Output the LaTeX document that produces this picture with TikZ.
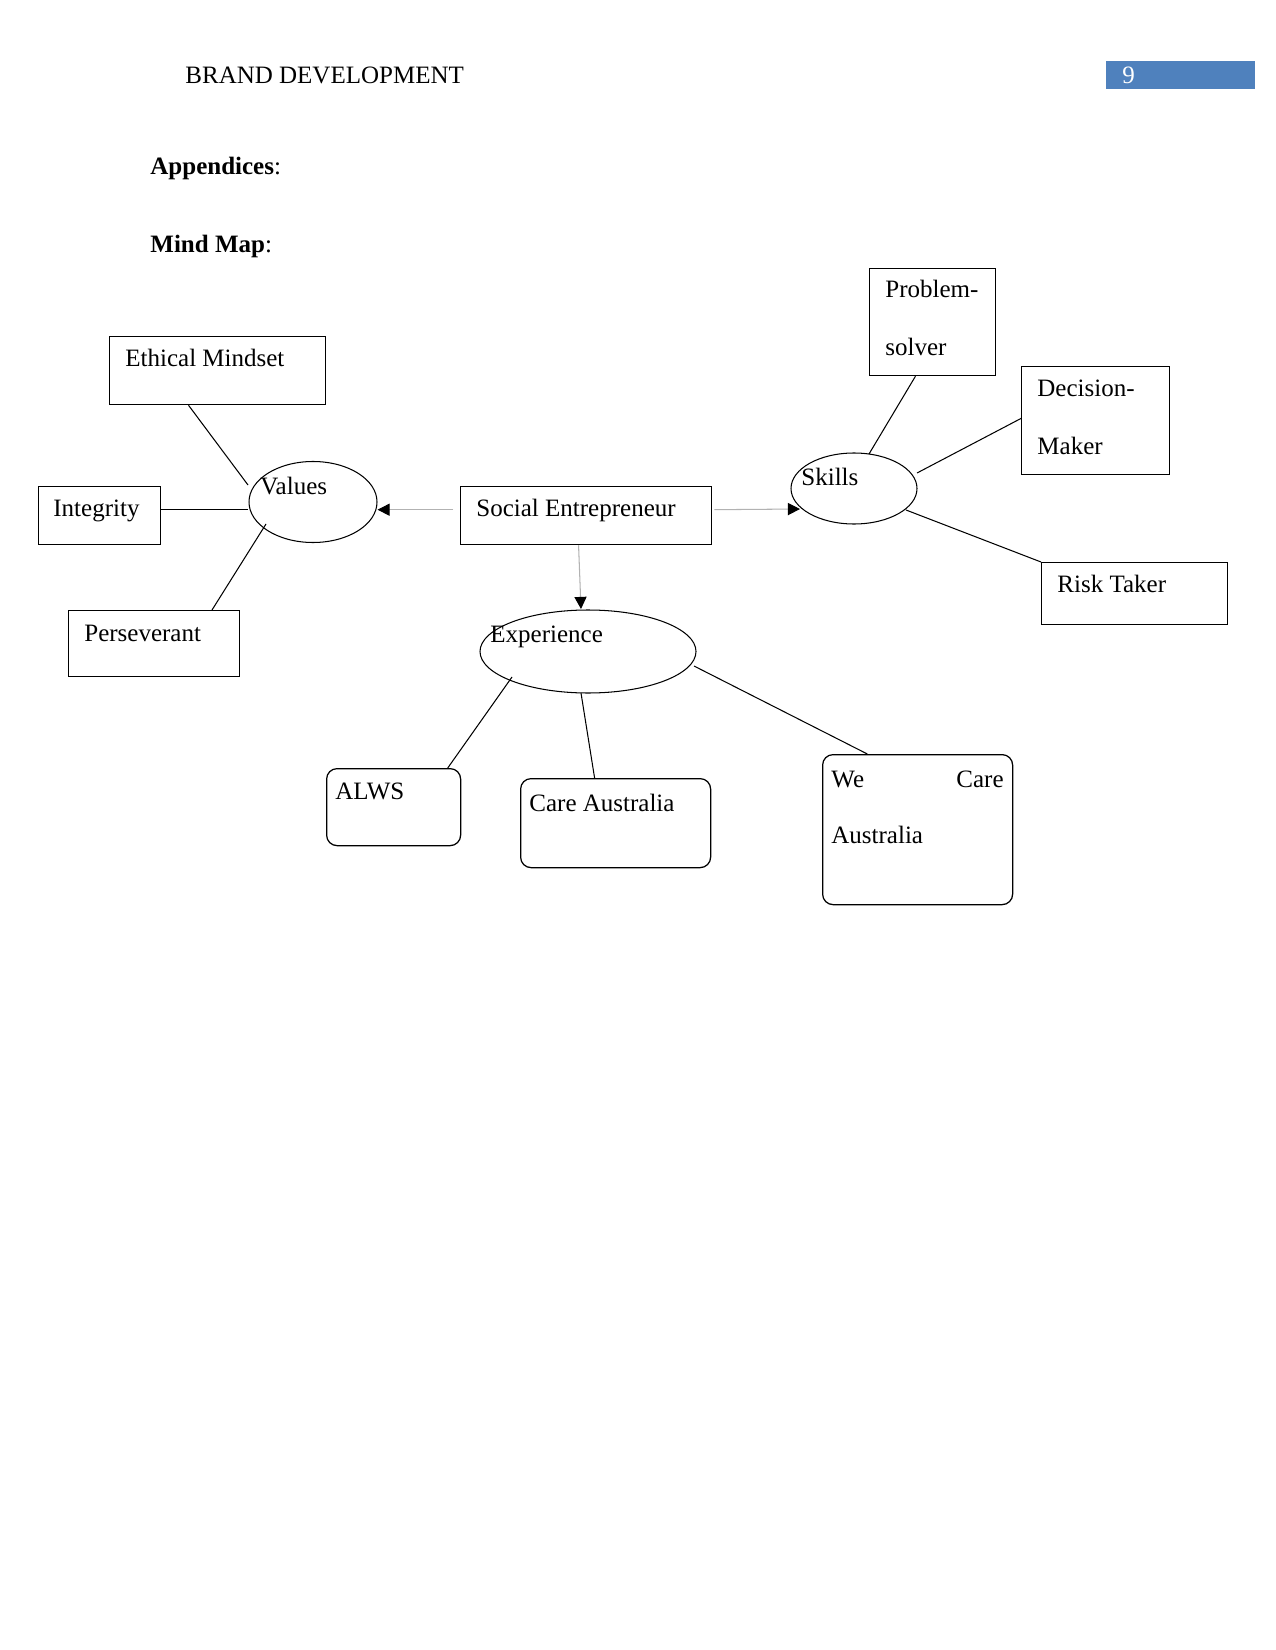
\documentclass[tikz,border=0pt]{standalone}
\usepackage{fontspec}
\setmainfont{Liberation Serif}
\usetikzlibrary{shapes.geometric,arrows.meta,calc}
\definecolor{hdrblue}{HTML}{4F81BD}
\tikzset{
  box/.style={draw, line width=0.6pt, rectangle, inner sep=0},
  rbox/.style={box, rounded corners=5pt},
  oval/.style={draw, line width=0.5pt, ellipse, inner sep=0},
  txt/.style={inner sep=0, anchor=base west, font=\fontsize{12}{14}\selectfont},
  link/.style={line width=0.5pt},
  flow/.style={line width=0.5pt, draw=gray!60, -{Triangle[color=black,length=5.8pt,width=5.8pt]}},
}
\begin{document}
\begin{tikzpicture}[x=0.48pt,y=-0.48pt]
\useasboundingbox (0,0) rectangle (1275,1650);
\fill[white] (0,0) rectangle (1275,1650);
% header
\node[txt] (hdr) at (185,84) {BRAND DEVELOPMENT};
\node[fill=hdrblue, inner sep=0, minimum width=149*0.48pt, minimum height=28*0.48pt, anchor=north west] (pg) at (1106,61) {};
\node[txt, text=white] (pgnum) at (1122,84) {9};
\node[txt] (app) at (150,175) {\textbf{Appendices}:};
\node[txt] (mm) at (150,253) {\textbf{Mind Map}:};
% boxes (left-top corners, sizes in px)
\node[box, minimum width=216*0.48pt, minimum height=68*0.48pt, anchor=north west] (em) at (109,336) {};
\node[box, minimum width=122*0.48pt, minimum height=58*0.48pt, anchor=north west] (int) at (38,486) {};
\node[box, minimum width=171*0.48pt, minimum height=66*0.48pt, anchor=north west] (per) at (68,610) {};
\node[box, minimum width=251*0.48pt, minimum height=58*0.48pt, anchor=north west] (se) at (460,486) {};
\node[box, minimum width=126*0.48pt, minimum height=107*0.48pt, anchor=north west] (ps) at (869,268) {};
\node[box, minimum width=148*0.48pt, minimum height=108*0.48pt, anchor=north west] (dm) at (1021,366) {};
\node[box, minimum width=186*0.48pt, minimum height=62*0.48pt, anchor=north west] (rt) at (1041,562) {};
\node[rbox, minimum width=134*0.48pt, minimum height=77*0.48pt, anchor=north west] (alws) at (326,768) {};
\node[rbox, minimum width=190*0.48pt, minimum height=89*0.48pt, anchor=north west] (ca) at (520,778) {};
\node[rbox, minimum width=190*0.48pt, minimum height=150*0.48pt, anchor=north west] (wca) at (822,754) {};
% ellipses
\node[oval, minimum width=128*0.48pt, minimum height=81*0.48pt] (values) at (313,502) {};
\node[oval, minimum width=126*0.48pt, minimum height=71*0.48pt] (skills) at (854,488.5) {};
\node[oval, minimum width=216*0.48pt, minimum height=83*0.48pt] (exp) at (588,651.5) {};
% texts
\node[txt] (emt) at (125,366.5) {Ethical Mindset};
\node[txt] (intt) at (53,516) {Integrity};
\node[txt] (pert) at (84,641) {Perseverant};
\node[txt] (valt) at (260,494) {Values};
\node[txt] (set) at (476,516) {Social Entrepreneur};
\node[txt] (skt) at (801,485) {Skills};
\node[txt] (pst1) at (885,298) {Problem-};
\node[txt] (pst2) at (885,356) {solver};
\node[txt] (dmt1) at (1037,396.5) {Decision-};
\node[txt] (dmt2) at (1037,454) {Maker};
\node[txt] (rtt) at (1057,592.5) {Risk Taker};
\node[txt] (expt) at (490,642) {Experience};
\node[txt] (alwst) at (335,799) {ALWS};
\node[txt] (cat) at (529,811) {Care Australia};
\node[txt] (wct1) at (831,787) {We};
\node[txt, anchor=base east] (wct2) at (1004,787) {Care};
\node[txt] (wct3) at (831,843) {Australia};
% links to Values
\draw[link] ($(em.south west)!0.366!(em.south east)$) -- ($(values.center)+(-65,-17)$);
\draw[link] ($(int.north east)!0.4!(int.south east)$) coordinate (intp) -- (intp -| values.west);
\draw[link] ($(per.north west)!0.836!(per.north east)$) -- ($(values.center)+(-47,22)$);
% arrows from Social Entrepreneur
\draw[flow] ($(se.north west)!0.4!(se.south west)+(-7,0)$) coordinate (sel) -- (sel -| values.east);
\draw[flow] ($(se.north east)!0.4!(se.south east)+(2,0)$) -- ($(skills.center)+(-54,20.5)$);
\draw[flow] ($(se.south west)!0.47!(se.south east)$) -- ($(exp.center)+(-7,-42.5)$);
% links to Skills
\draw[link] ($(ps.south west)!0.365!(ps.south east)$) -- ($(skills.center)+(15,-34.5)$);
\draw[link] ($(dm.north west)!0.48!(dm.south west)$) -- ($(skills.center)+(63,-15.5)$);
\draw[link] (rt.north west) -- ($(skills.center)+(52,21.5)$);
% links to Experience
\draw[link] ($(alws.north west)!0.9!(alws.north east)$) -- ($(exp.center)+(-76,25.5)$);
\draw[link] ($(ca.north west)!0.39!(ca.north east)$) -- ($(exp.center)+(-7,41.5)$);
\draw[link] ($(wca.north west)!0.237!(wca.north east)$) -- ($(exp.center)+(106,14.5)$);
\end{tikzpicture}
\end{document}
